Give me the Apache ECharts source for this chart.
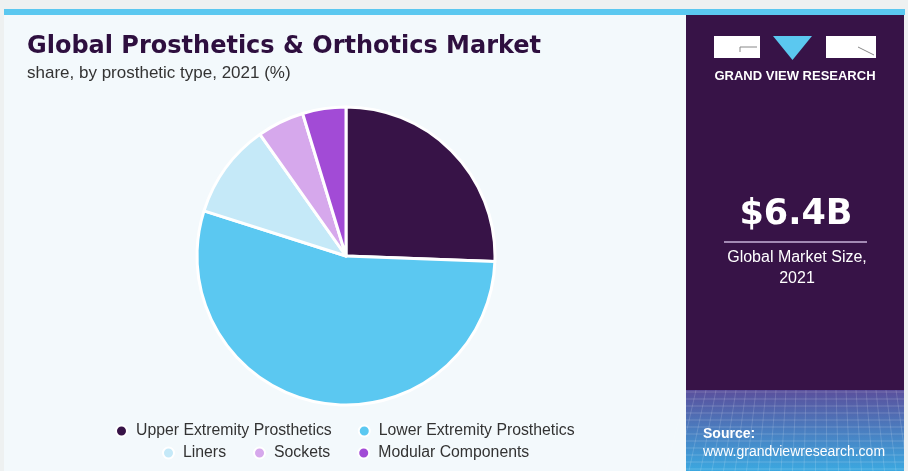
<!DOCTYPE html>
<html>
<head>
<meta charset="utf-8">
<script src="https://cdn.jsdelivr.net/npm/echarts@6/dist/echarts.min.js"></script>
<style>
  html, body { margin: 0; padding: 0; background: #eef1f1; }
  #chart { width: 908px; height: 471px; }
</style>
</head>
<body>
<div id="chart"></div>
<script>
// share by prosthetic type, 2021 (%)
const categories = ['Upper Extremity Prosthetics', 'Lower Extremity Prosthetics', 'Liners', 'Sockets', 'Modular Components'];
const shares = [25.6, 54.3, 10.3, 5.1, 4.7];
const colors = ['#371347', '#5bc8f1', '#c5e9f8', '#d6a8ec', '#a24bd6'];

const legendRow1 = categories.slice(0, 2);
const legendRow2 = categories.slice(2);

const chart = echarts.init(document.getElementById('chart'));

// grid lines for the bottom picture of the side panel
const meshLines = [];
for (let i = 0; i < 12; i++) {
    meshLines.push({
        type: 'line',
        shape: { x1: 686, y1: 392 + i * 7, x2: 904, y2: 392 + i * 7 },
        style: { stroke: 'rgba(255,255,255,0.18)', lineWidth: 1 },
        silent: true
    });
}
for (let i = 0; i < 24; i++) {
    const x = 686 + i * 10;
    meshLines.push({
        type: 'line',
        shape: { x1: x, y1: 390, x2: x - 20 + i * 1.5, y2: 471 },
        style: { stroke: 'rgba(255,255,255,0.15)', lineWidth: 1 },
        silent: true
    });
}

const sans = '"Liberation Sans", Arial, sans-serif';
const wide = '"DejaVu Sans", sans-serif';
const legendText = { color: '#333', fontSize: 15.8, fontFamily: sans, padding: [0, 0, 0, 4] };

chart.setOption({
    backgroundColor: '#eef1f1',
    animation: false,
    color: colors,
    graphic: [
        { type: 'rect', shape: { x: 4, y: 9, width: 901, height: 6 }, style: { fill: '#5bc8f0' }, z: -1 },
        { type: 'rect', shape: { x: 4, y: 15, width: 682, height: 456 }, style: { fill: '#f3f9fc' }, z: -1 },
        { type: 'rect', shape: { x: 686, y: 15, width: 218, height: 456 }, style: { fill: '#371347' }, z: -1 },
        {
            type: 'rect', shape: { x: 686, y: 390, width: 218, height: 81 }, z: -1,
            style: {
                fill: new echarts.graphic.LinearGradient(0, 0, 0, 1, [
                    { offset: 0, color: '#5a4f9c' },
                    { offset: 0.5, color: '#4a7ec0' },
                    { offset: 1, color: '#3ba8e0' }
                ])
            }
        },
        ...meshLines,
        // logo
        { type: 'rect', shape: { x: 714, y: 36, width: 46, height: 22 }, style: { fill: '#ffffff' } },
        { type: 'polyline', shape: { points: [[740, 52], [740, 47], [757, 47]] }, style: { stroke: '#888', lineWidth: 1, fill: null } },
        { type: 'polygon', shape: { points: [[773, 36], [812, 36], [792.5, 60]] }, style: { fill: '#5bc8f0' } },
        { type: 'rect', shape: { x: 826, y: 36, width: 50, height: 22 }, style: { fill: '#ffffff' } },
        { type: 'line', shape: { x1: 858, y1: 47, x2: 874, y2: 55 }, style: { stroke: '#888', lineWidth: 1 } },
        {
            type: 'text', x: 795, y: 76,
            style: { text: 'GRAND VIEW RESEARCH', fill: '#ffffff', font: 'bold 13px ' + sans, align: 'center', verticalAlign: 'middle' }
        },
        // market size
        {
            type: 'text', x: 796, y: 215,
            style: { text: '$6.4B', fill: '#ffffff', font: 'bold 35px ' + wide, align: 'center', verticalAlign: 'middle' }
        },
        { type: 'line', shape: { x1: 724, y1: 242, x2: 867, y2: 242 }, style: { stroke: '#c9b3d9', lineWidth: 1.5 } },
        {
            type: 'text', x: 797, y: 258,
            style: { text: 'Global Market Size,', fill: '#ffffff', font: '16px ' + sans, align: 'center', verticalAlign: 'middle' }
        },
        {
            type: 'text', x: 797, y: 279,
            style: { text: '2021', fill: '#ffffff', font: '16px ' + sans, align: 'center', verticalAlign: 'middle' }
        },
        // source
        {
            type: 'text', x: 703, y: 434,
            style: { text: 'Source:', fill: '#ffffff', font: 'bold 14px ' + sans, verticalAlign: 'middle' }
        },
        {
            type: 'text', x: 703, y: 452,
            style: { text: 'www.grandviewresearch.com', fill: '#ffffff', font: '14px ' + sans, verticalAlign: 'middle' }
        }
    ],
    title: {
        text: 'Global Prosthetics & Orthotics Market',
        subtext: 'share, by prosthetic type, 2021 (%)',
        left: 22,
        top: 30,
        itemGap: 6,
        textStyle: { color: '#2e0f3f', fontSize: 24, fontWeight: 'bold', fontFamily: wide },
        subtextStyle: { color: '#333', fontSize: 17, fontFamily: sans }
    },
    legend: [
        {
            data: legendRow1, left: 110, top: 418, icon: 'circle',
            itemWidth: 11, itemHeight: 11, itemGap: 26,
            textStyle: legendText, selectedMode: false
        },
        {
            data: legendRow2, left: 157, top: 440, icon: 'circle',
            itemWidth: 11, itemHeight: 11, itemGap: 27,
            textStyle: legendText, selectedMode: false
        }
    ],
    series: [{
        type: 'pie',
        center: [346, 256],
        radius: 149,
        startAngle: 90,
        clockwise: true,
        label: { show: false },
        labelLine: { show: false },
        itemStyle: { borderColor: '#ffffff', borderWidth: 3 },
        data: categories.map((name, i) => ({ name, value: shares[i] }))
    }]
});
</script>
</body>
</html>
